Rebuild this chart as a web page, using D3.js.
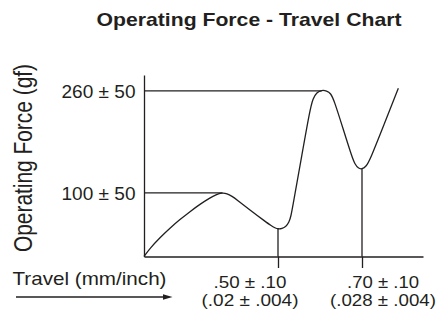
<!DOCTYPE html>
<html>
<head>
<meta charset="utf-8">
<script src="https://cdn.jsdelivr.net/npm/d3@7/dist/d3.min.js"></script>
<style>
  html, body { margin: 0; padding: 0; background: #fff; }
  svg { display: block; }
  text { font-family: "Liberation Sans", Arial, Helvetica, sans-serif; fill: #231f20; }
</style>
</head>
<body>
<svg id="chart" width="436" height="316"></svg>
<script>
// ---- data (travel in mm, force in gf) ----
const travel = [0, 0.0224, 0.0597, 0.0970, 0.1343, 0.1716, 0.2090, 0.2463, 0.2687, 0.2910, 0.3097, 0.3284, 0.3470, 0.3955, 0.4515, 0.4739, 0.4888, 0.5007, 0.5095, 0.5190, 0.5262, 0.5310, 0.5357, 0.5571, 0.5762, 0.5833, 0.5921, 0.6040, 0.6160, 0.6255, 0.6333, 0.6548, 0.6762, 0.6833, 0.6912, 0.6993, 0.7095, 0.7190, 0.7524, 0.7864];
const force  = [0, 13.0, 29.8, 44.7, 58.1, 70.6, 82.1, 92.1, 97.1, 100.2, 99.0, 94.7, 89.0, 73.0, 55.3, 48.5, 44.8, 43.2, 43.8, 47.1, 53.4, 63.6, 80.9, 160.2, 230.7, 248.1, 257.8, 261.4, 260.3, 256.3, 245.7, 201.0, 156.2, 144.8, 138.5, 136.9, 141.0, 151.5, 207.3, 264.1];

const yTickValues = [100, 260];
const yTickLabels = ["100 ± 50", "260 ± 50"];
const refLineEndTravel = [0.293, 0.604];   // peaks the force levels refer to

const xTickValues = [0.50, 0.70];
const xTickLabels = [".50 ± .10", ".70 ± .10"];
const xTickSubLabels = ["(.02 ± .004)", "(.028 ± .004)"];
const xTickForce = [43.5, 137.5];          // valley forces where the travel lines start

const title = "Operating Force - Travel Chart";
const yTitle = "Operating Force (gf)";
const xTitle = "Travel (mm/inch)";

// ---- layout ----
const ink = "#231f20";
const svg = d3.select("#chart");

// schematic (not to scale) travel axis: piecewise linear scale
const x = d3.scaleLinear().domain([0, 0.5, 0.7, 0.845]).range([144, 278, 362, 423]);
const y = d3.scaleLinear().domain([0, 285]).range([256.5, 75]);

const points = travel.map((t, i) => ({ t, f: force[i] }));

// title
svg.append("text")
  .attr("x", 249).attr("y", 25.5)
  .attr("text-anchor", "middle")
  .attr("font-size", 18.6).attr("font-weight", "bold")
  .attr("textLength", 305).attr("lengthAdjust", "spacingAndGlyphs")
  .text(title);

// y axis (no tick marks)
const yAxis = svg.append("g")
  .attr("transform", `translate(${x(0)},0)`)
  .call(d3.axisLeft(y).tickValues(yTickValues).tickSize(0).tickSizeOuter(0).tickPadding(8.5)
    .tickFormat((d, i) => yTickLabels[i]));
yAxis.select(".domain").attr("stroke", ink).attr("stroke-width", 1.3);
yAxis.selectAll(".tick text")
  .attr("font-size", 17.5).attr("fill", ink)
  .attr("dy", "0.36em")
  .attr("textLength", 74).attr("lengthAdjust", "spacingAndGlyphs");
yAxis.selectAll(".tick line").remove();

// x axis
const xAxis = svg.append("g")
  .attr("transform", `translate(0,${y(0)})`)
  .call(d3.axisBottom(x).tickValues(xTickValues).tickSize(11.5).tickSizeOuter(0).tickFormat(""));
xAxis.select(".domain").attr("stroke", ink).attr("stroke-width", 1.3);
xAxis.selectAll(".tick line").attr("stroke", ink).attr("stroke-width", 1.3);

// horizontal force reference lines
svg.selectAll("line.ref")
  .data(yTickValues)
  .join("line")
  .attr("class", "ref")
  .attr("x1", x(0)).attr("x2", (d, i) => x(refLineEndTravel[i]))
  .attr("y1", d => y(d)).attr("y2", d => y(d))
  .attr("stroke", ink).attr("stroke-width", 1.3);

// vertical travel lines from valleys to axis
svg.selectAll("line.drop")
  .data(xTickValues)
  .join("line")
  .attr("class", "drop")
  .attr("x1", d => x(d)).attr("x2", d => x(d))
  .attr("y1", (d, i) => y(xTickForce[i])).attr("y2", y(0))
  .attr("stroke", ink).attr("stroke-width", 1.3);

// the force curve
const line = d3.line().x(d => x(d.t)).y(d => y(d.f)).curve(d3.curveBasis);
svg.append("path")
  .datum(points)
  .attr("d", line)
  .attr("fill", "none").attr("stroke", ink).attr("stroke-width", 1.3)
  .attr("stroke-linejoin", "round");

// x tick labels (mm and inch)
const labelShift = [-28, 21];
const labelWidths = [73, 72];
const subWidths = [97, 106];
svg.selectAll("text.xl")
  .data(xTickLabels)
  .join("text")
  .attr("class", "xl")
  .attr("x", (d, i) => x(xTickValues[i]) + labelShift[i]).attr("y", 288.3)
  .attr("text-anchor", "middle").attr("font-size", 16.5)
  .attr("textLength", (d, i) => labelWidths[i]).attr("lengthAdjust", "spacingAndGlyphs")
  .text(d => d);
svg.selectAll("text.xs")
  .data(xTickSubLabels)
  .join("text")
  .attr("class", "xs")
  .attr("x", (d, i) => x(xTickValues[i]) + labelShift[i]).attr("y", 306.3)
  .attr("text-anchor", "middle").attr("font-size", 16.5)
  .attr("textLength", (d, i) => subWidths[i]).attr("lengthAdjust", "spacingAndGlyphs")
  .text(d => d);

// y title
svg.append("text")
  .attr("transform", "translate(31.5,158) rotate(-90)")
  .attr("text-anchor", "middle")
  .attr("font-size", 25)
  .attr("textLength", 188).attr("lengthAdjust", "spacingAndGlyphs")
  .text(yTitle);

// x title and arrow
svg.append("text")
  .attr("x", 12.5).attr("y", 285)
  .attr("font-size", 18.6)
  .attr("textLength", 154).attr("lengthAdjust", "spacingAndGlyphs")
  .text(xTitle);

svg.append("line")
  .attr("x1", 16).attr("x2", 164).attr("y1", 297).attr("y2", 297)
  .attr("stroke", ink).attr("stroke-width", 1.3);
svg.append("path")
  .attr("d", d3.line()([[163, 294.2], [172.5, 297], [163, 299.8]]) + "Z")
  .attr("fill", ink);
</script>
</body>
</html>
